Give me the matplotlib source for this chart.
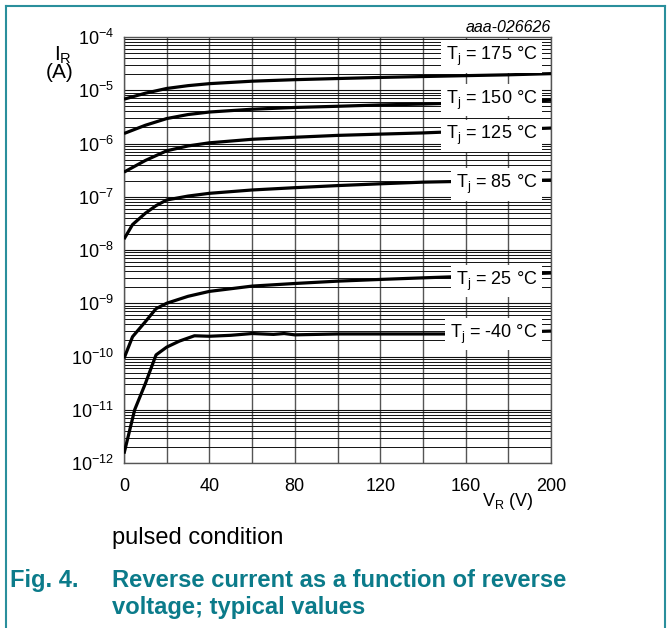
import matplotlib
matplotlib.use("Agg")
import matplotlib.pyplot as plt
from matplotlib.lines import Line2D
from matplotlib.ticker import LogLocator, NullFormatter, FixedLocator
import numpy as np

plt.rcParams['font.family'] = ['Liberation Sans', 'DejaVu Sans']
plt.rcParams['mathtext.fontset'] = 'custom'
plt.rcParams['mathtext.rm'] = 'Liberation Sans'
plt.rcParams['mathtext.it'] = 'Liberation Sans:italic'
plt.rcParams['mathtext.bf'] = 'Liberation Sans:bold'
plt.rcParams['mathtext.default'] = 'regular'

# ---------------- data ----------------
v_175 = [0, 10, 20, 30, 40, 60, 80, 100, 120, 140, 160, 180, 200]
i_175 = [6.8e-6, 8.8e-6, 1.08e-5, 1.22e-5, 1.33e-5, 1.48e-5, 1.58e-5, 1.66e-5,
         1.74e-5, 1.81e-5, 1.88e-5, 1.95e-5, 2.05e-5]

v_150 = [0, 10, 20, 30, 40, 60, 80, 100, 120, 140, 160, 180, 200]
i_150 = [1.54e-6, 2.2e-6, 2.94e-6, 3.5e-6, 3.9e-6, 4.4e-6, 4.75e-6, 5.0e-6,
         5.3e-6, 5.5e-6, 5.8e-6, 6.1e-6, 6.5e-6]

v_125 = [0, 10, 20, 30, 40, 60, 80, 100, 120, 140, 160, 180, 200]
i_125 = [2.9e-7, 4.8e-7, 7.3e-7, 9.0e-7, 1.03e-6, 1.2e-6, 1.31e-6, 1.42e-6,
         1.5e-6, 1.58e-6, 1.7e-6, 1.82e-6, 1.95e-6]

v_85 = [0, 4, 10, 15, 20, 30, 40, 60, 80, 100, 120, 140, 160, 180, 200]
i_85 = [1.6e-8, 3.0e-8, 4.9e-8, 6.8e-8, 8.7e-8, 1.03e-7, 1.16e-7, 1.34e-7,
        1.48e-7, 1.62e-7, 1.75e-7, 1.88e-7, 1.95e-7, 2.0e-7, 2.06e-7]

v_25 = [0, 4, 10, 15, 20, 30, 40, 60, 80, 100, 120, 140, 160, 180, 200]
i_25 = [9.2e-11, 2.35e-10, 4.5e-10, 7.9e-10, 1.0e-9, 1.35e-9, 1.67e-9, 2.1e-9,
        2.35e-9, 2.6e-9, 2.8e-9, 3.0e-9, 3.2e-9, 3.45e-9, 3.7e-9]

v_m40 = [0, 5, 10, 15, 20, 26, 33, 40, 50, 60, 70, 75, 80, 90, 100, 150, 200]
i_m40 = [1.5e-12, 1.0e-11, 3.1e-11, 1.07e-10, 1.5e-10, 1.95e-10, 2.45e-10,
         2.4e-10, 2.5e-10, 2.7e-10, 2.6e-10, 2.7e-10, 2.55e-10, 2.6e-10,
         2.65e-10, 2.65e-10, 3.0e-10]

curve_labels = ["T$_{j}$ = 175 °C", "T$_{j}$ = 150 °C", "T$_{j}$ = 125 °C",
                "T$_{j}$ = 85 °C", "T$_{j}$ = 25 °C", "T$_{j}$ = -40 °C"]
label_y = [4.3e-5, 6.5e-6, 1.39e-6, 1.7e-7, 2.6e-9, 2.65e-10]
label_v = 193.5

x_ticks = [0, 40, 80, 120, 160, 200]
y_decades = [1e-12, 1e-11, 1e-10, 1e-9, 1e-8, 1e-7, 1e-6, 1e-5, 1e-4]

# ---------------- figure ----------------
W, H = 669, 628
fig = plt.figure(figsize=(W / 100, H / 100), dpi=100)
fig.patch.set_facecolor('white')

ax = fig.add_axes([124 / W, 1 - 463 / H, (551 - 124) / W, (463 - 37) / H])
ax.set_yscale('log')
ax.set_xlim(0, 200)
ax.set_ylim(1e-12, 1e-4)

# grid
ax.yaxis.set_major_locator(FixedLocator(y_decades))
ax.yaxis.set_minor_locator(LogLocator(base=10, subs=np.arange(2, 10), numticks=100))
ax.yaxis.set_minor_formatter(NullFormatter())
ax.xaxis.set_major_locator(FixedLocator(x_ticks))
ax.xaxis.set_minor_locator(FixedLocator(np.arange(20, 200, 40)))
ax.grid(True, which='major', axis='y', color='#111111', lw=0.8)
ax.grid(True, which='minor', axis='y', color='#111111', lw=0.7)
ax.grid(True, which='both', axis='x', color='#555555', lw=1.0)
ax.tick_params(which='both', length=0)
ax.tick_params(axis='x', pad=11, labelsize=13)
ax.tick_params(axis='y', pad=7, labelsize=13)
for s in ax.spines.values():
    s.set_color('#555555')
    s.set_linewidth(1.0)
ax.set_axisbelow(True)

for v, i in [(v_175, i_175), (v_150, i_150), (v_125, i_125),
             (v_85, i_85), (v_25, i_25), (v_m40, i_m40)]:
    ax.plot(v, i, color='black', lw=2.3, solid_capstyle='butt', zorder=3)

for lab, ly in zip(curve_labels, label_y):
    ax.text(label_v, ly, lab, ha='right', va='center', fontsize=13, zorder=5,
            bbox=dict(boxstyle='square,pad=0.25', fc='white', ec='none'))

# axis titles
fig.text(63 / W, 1 - 55 / H, "I$_{R}$", ha='center', va='center', fontsize=15)
fig.text(60 / W, 1 - 73 / H, "(A)", ha='center', va='center', fontsize=15)
fig.text(508 / W, 1 - 502 / H, "V$_{R}$ (V)", ha='center', va='center', fontsize=13)
fig.text(551 / W, 1 - 27 / H, "aaa-026626", ha='right', va='center',
         fontsize=11.5, style='italic')

# notes and caption
teal = '#0b7b8a'
fig.text(112 / W, 1 - 538 / H, "pulsed condition", ha='left', va='center', fontsize=17)
fig.text(10 / W, 1 - 587 / H, "Fig. 4.", ha='left', va='baseline',
         fontsize=17, fontweight='bold', color=teal)
fig.text(112 / W, 1 - 587 / H, "Reverse current as a function of reverse",
         ha='left', va='baseline', fontsize=17.1, fontweight='bold', color=teal)
fig.text(112 / W, 1 - 614 / H, "voltage; typical values",
         ha='left', va='baseline', fontsize=17.1, fontweight='bold', color=teal)

# frame lines
border = '#2a8f9c'
fig.add_artist(Line2D([6.5 / W, 6.5 / W], [0, 1 - 5.5 / H], color=border, lw=1.5))
fig.add_artist(Line2D([664.5 / W, 664.5 / W], [0, 1 - 5.5 / H], color=border, lw=1.5))
fig.add_artist(Line2D([6.5 / W, 664.5 / W], [1 - 5.5 / H, 1 - 5.5 / H], color=border, lw=1.5))

fig.savefig("out.png", dpi=100)
